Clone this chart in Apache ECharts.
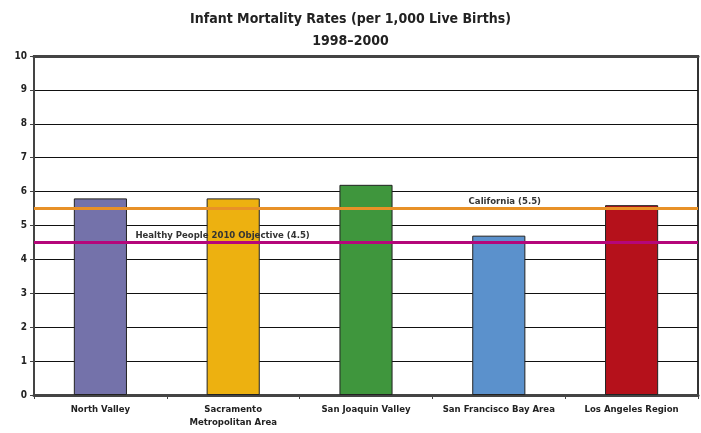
<!DOCTYPE html>
<html><head><meta charset="utf-8">
<script src="https://cdn.jsdelivr.net/npm/echarts@6/dist/echarts.min.js"></script>
<style>html,body{margin:0;padding:0;background:#fff}#c{width:701px;height:433px}</style>
</head><body><div id="c"></div>
<script>
const categories = ['North Valley', 'Sacramento\nMetropolitan Area', 'San Joaquin Valley', 'San Francisco Bay Area', 'Los Angeles Region'];
const values = [5.8, 5.8, 6.2, 4.7, 5.6];
const barColors = ['#7472AA', '#EDB110', '#3F963D', '#5B91CC', '#B5111B'];
const californiaRate = 5.5;
const objectiveRate = 4.5;
const yTicks = [0,1,2,3,4,5,6,7,8,9,10];

const FONT = '"Liberation Sans Narrow", "DejaVu Sans Condensed", sans-serif';
const chart = echarts.init(document.getElementById('c'), null, {renderer: 'canvas'});
chart.setOption({
  animation: false,
  backgroundColor: '#fff',
  title: {
    text: 'Infant Mortality Rates (per 1,000 Live Births)\n1998\u20132000',
    left: 'center', top: 3,
    textStyle: {fontFamily: FONT, fontWeight: 'bold', fontSize: 14, lineHeight: 22, color: '#222'}
  },
  grid: {left: 34, right: 3, top: 56, bottom: 38, show: true, borderColor: '#333', borderWidth: 2, backgroundColor: 'transparent'},
  xAxis: [{
    type: 'category', data: categories,
    axisLine: {lineStyle: {color: '#444', width: 3}},
    axisTick: {show: true, length: 4, lineStyle: {color: '#444'}},
    axisLabel: {fontFamily: FONT, fontWeight: 'bold', fontSize: 9.5, color: '#222', margin: 8, lineHeight: 13, interval: 0}
  }, {
    type: 'category', data: categories, position: 'top',
    axisLine: {show: true, lineStyle: {color: '#444', width: 3}},
    axisTick: {show: false}, axisLabel: {show: false}
  }],
  yAxis: {
    type: 'value', min: yTicks[0], max: yTicks[yTicks.length-1], interval: 1,
    axisLine: {show: true, lineStyle: {color: '#444', width: 2}},
    axisTick: {show: true, length: 4, lineStyle: {color: '#444'}},
    axisLabel: {fontFamily: FONT, fontWeight: 'bold', fontSize: 10, color: '#222', margin: 7},
    splitLine: {lineStyle: {color: '#111', width: 1}}
  },
  series: [{
    type: 'bar',
    data: values.map((v, i) => ({value: v, itemStyle: {color: barColors[i]}})),
    barWidth: '40%',
    itemStyle: {borderColor: '#222', borderWidth: 1},
    z: 3,
    markLine: {
      silent: true, symbol: 'none', z: 5,
      label: {show: false},
      data: [
        {yAxis: californiaRate, lineStyle: {color: '#E89127', width: 3, type: 'solid'}},
        {yAxis: objectiveRate, lineStyle: {color: '#B5067A', width: 3, type: 'solid'}}
      ]
    },
    markPoint: {
      silent: true, symbol: 'circle', symbolSize: 0, z: 6,
      data: [
        {coord: [3, californiaRate], label: {show: true, formatter: 'California (5.5)', position: 'top', distance: 2, fontFamily: FONT, fontWeight: 'bold', fontSize: 9.5, color: '#333', offset: [6, 0]}},
        {coord: [0, objectiveRate], label: {show: true, formatter: 'Healthy People 2010 Objective (4.5)', position: 'right', distance: 0, fontFamily: FONT, fontWeight: 'bold', fontSize: 9.5, color: '#333', offset: [35, -7]}}
      ]
    }
  }]
});
</script></body></html>
